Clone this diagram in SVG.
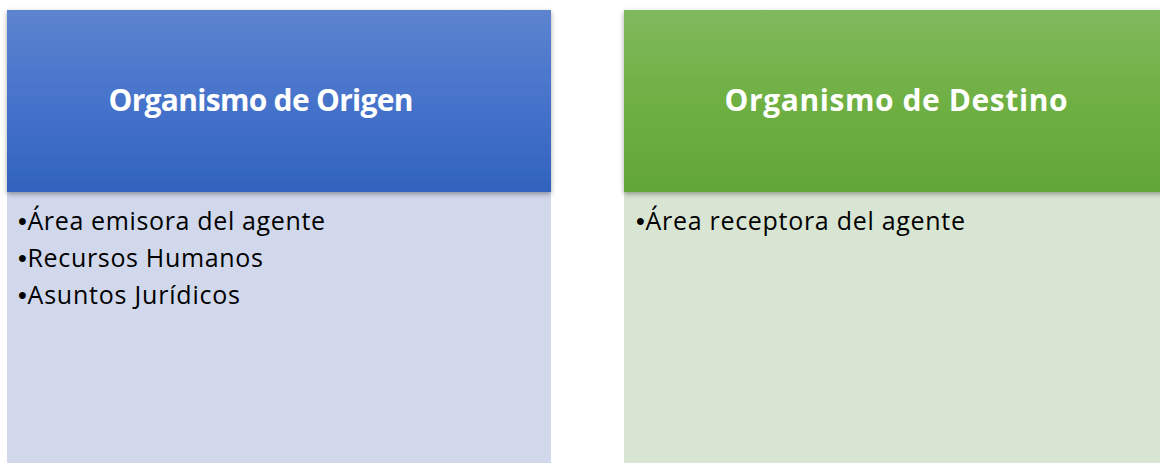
<svg xmlns="http://www.w3.org/2000/svg" width="1160" height="463" viewBox="0 0 1160 463">
<defs>
<linearGradient id="gBlue" x1="0" y1="0" x2="0" y2="1">
<stop offset="0" stop-color="#5d84cf"/>
<stop offset="0.5" stop-color="#4673cb"/>
<stop offset="1" stop-color="#3163bd"/>
</linearGradient>
<linearGradient id="gGreen" x1="0" y1="0" x2="0" y2="1">
<stop offset="0" stop-color="#80b95e"/>
<stop offset="0.5" stop-color="#6fb043"/>
<stop offset="1" stop-color="#62a537"/>
</linearGradient>
<filter id="sh" x="-5%" y="-5%" width="110%" height="115%">
<feDropShadow dx="0" dy="2" stdDeviation="2.5" flood-color="#000" flood-opacity="0.35"/>
</filter>
<style>
.title{font-family:"Open Sans","Liberation Sans",sans-serif;font-weight:bold;font-size:30px;fill:#ffffff;text-anchor:middle}
.item{font-family:"Open Sans","Liberation Sans",sans-serif;font-size:25px;fill:#000000}
.b{font-family:"Liberation Sans",sans-serif}
</style>
</defs>
<rect width="1160" height="463" fill="#ffffff"/>
<g id="origen">
<rect x="7" y="192" width="544" height="271" fill="#d1d8eb"/>
<rect x="7" y="10" width="544" height="182" fill="url(#gBlue)" filter="url(#sh)"/>
<text class="title" x="261" y="111" textLength="305">Organismo de Origen</text>
<text class="item" x="18" y="230" textLength="307"><tspan class="b">•</tspan>Área emisora del agente</text>
<text class="item" x="18" y="267" textLength="245"><tspan class="b">•</tspan>Recursos Humanos</text>
<text class="item" x="18" y="304" textLength="222"><tspan class="b">•</tspan>Asuntos Jurídicos</text>
</g>
<g id="destino">
<rect x="624" y="192" width="536" height="271" fill="#d9e5d3"/>
<rect x="624" y="10" width="540" height="182" fill="url(#gGreen)" filter="url(#sh)"/>
<text class="title" x="896" y="111" textLength="343">Organismo de Destino</text>
<text class="item" x="636" y="230" textLength="329"><tspan class="b">•</tspan>Área receptora del agente</text>
</g>
<g id="connectors"></g>
</svg>
